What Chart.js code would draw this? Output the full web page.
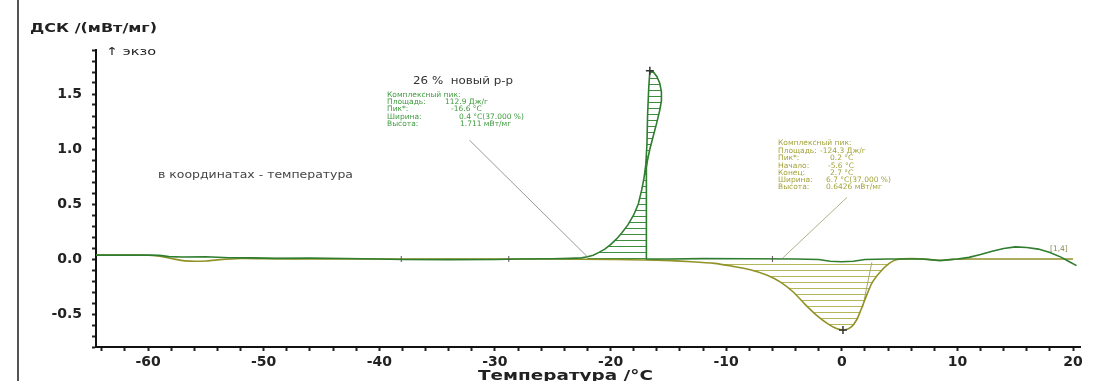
<!DOCTYPE html>
<html>
<head>
<meta charset="utf-8">
<script src="https://cdn.jsdelivr.net/npm/chart.js@4.4.1/dist/chart.umd.min.js"></script>
<style>
html, body { margin: 0; padding: 0; background: #fff; }
canvas { display: block; }
</style>
</head>
<body>
<canvas id="dsc" width="1112" height="381"></canvas>
<script>
// ДСК: зелёная кривая (кристаллизация), оливковая (плавление)
const greenT = [-64.5, -62, -60, -59, -58.2, -57, -55, -53, -51, -49, -46, -43, -40, -38, -34, -30, -28, -25, -23.5,
    -22.5, -22, -21.5, -21, -20.5, -20, -19.5, -19, -18.5, -18, -17.6, -17.3, -17.1, -16.95, -16.85, -16.8, -16.7, -16.6,
    -16.3, -16.0, -15.75, -15.6, -15.6, -15.75, -16.0, -16.3, -16.6, -16.8, -16.9, -16.9,
    -16.5, -15, -12, -8, -4, -2, -1, 0, 1, 2, 4, 7, 8.5, 10, 11, 12, 13, 14, 15, 16, 17, 18, 19, 19.6, 20.3];
const greenDSC = [0.035, 0.035, 0.035, 0.033, 0.022, 0.018, 0.02, 0.012, 0.01, 0.006, 0.008, 0.004, 0.0, -0.004, -0.006, -0.004, 0.0, 0.002, 0.006,
    0.01, 0.02, 0.035, 0.06, 0.09, 0.13, 0.18, 0.24, 0.31, 0.4, 0.5, 0.63, 0.74, 0.86, 1.05, 1.3, 1.55, 1.711,
    1.70, 1.66, 1.6, 1.52, 1.44, 1.35, 1.24, 1.12, 1.0, 0.9, 0.83, 0.0,
    0.0, 0.0, 0.003, 0.002, 0.0, -0.005, -0.02, -0.025, -0.02, -0.005, 0.0, 0.0, -0.015, 0.0, 0.015, 0.04, 0.07, 0.095, 0.11, 0.105, 0.09, 0.06, 0.015, -0.02, -0.06];

const oliveT = [-64.5, -62, -60, -59, -58, -57, -56, -55, -54, -52, -50, -45, -40, -35, -30, -25, -20, -16,
    -13, -11, -9.5, -8, -6.5, -5.3, -4.2, -3.2, -2.2, -1.2, -0.4, 0.2, 0.8, 1.3, 1.7, 2.0, 2.6, 3.3, 4.1, 4.8,
    6, 7.5, 8.5, 9.5, 11, 15, 20];
const oliveDSC = [0.035, 0.035, 0.034, 0.025, 0.005, -0.015, -0.02, -0.018, -0.008, 0.004, 0.003, 0.0, 0.0, 0.0, 0.0, 0.0, -0.004, -0.01,
    -0.025, -0.04, -0.065, -0.095, -0.145, -0.21, -0.3, -0.41, -0.51, -0.59, -0.635, -0.645, -0.62, -0.55, -0.45, -0.37, -0.22, -0.12, -0.04, -0.005,
    0.003, -0.003, -0.012, -0.003, 0.0, 0.0, 0.0];

// отметки пиков и точек на базовой линии
const peakT = [-16.6, 0.1];
const peakDSC = [1.711, -0.645];
const markT = [-38.1, -28.8, -6.0];
const markDSC = [0, 0, 0];

// выноски и касательная
const leader1T = [-32.2, -22.0];
const leader1DSC = [1.08, 0.02];
const leader2T = [0.45, -5.1];
const leader2DSC = [0.56, 0.01];
const tangentT = [2.6, 1.8];
const tangentDSC = [-0.03, -0.44];

const xMajor = [-60, -50, -40, -30, -20, -10, 0, 10, 20];
const yMajor = [-0.5, 0.0, 0.5, 1.0, 1.5];

function pts(xs, ys) {
    return xs.map((v, i) => ({ x: v, y: ys[i] }));
}

function hatch(color, gap) {
    const c = document.createElement('canvas');
    c.width = 8; c.height = gap;
    const g = c.getContext('2d');
    g.fillStyle = color;
    g.fillRect(0, 0, 8, 1);
    return g.createPattern(c, 'repeat');
}

const green = pts(greenT, greenDSC);
const olive = pts(oliveT, oliveDSC);
const greenPeak = green.slice(greenT.indexOf(-22), greenT.lastIndexOf(-16.9) + 1);
const olivePeak = olive.slice(oliveT.indexOf(-13), oliveT.indexOf(4.8) + 1);

const FONT = 'DejaVu Sans';

function txt(ctx, s, x, y, size, color, weight) {
    ctx.font = `${weight || 'normal'} ${size}px "${FONT}"`;
    ctx.fillStyle = color;
    ctx.fillText(s, x, y);
}

// текст, растянутый по ширине (исходный снимок растянут по горизонтали)
function txtFit(ctx, s, x, y, size, color, weight, w) {
    ctx.font = `${weight || 'normal'} ${size}px "${FONT}"`;
    ctx.fillStyle = color;
    const k = w / ctx.measureText(s).width;
    ctx.save();
    ctx.translate(x, y);
    ctx.scale(k, 1);
    ctx.fillText(s, 0, 0);
    ctx.restore();
}

// штриховка площади пиков (петля по x, поэтому своя заливка)
const hatchFill = {
    id: 'hatchFill',
    beforeDatasetsDraw(chart) {
        const { ctx, chartArea, scales: { x, y } } = chart;
        const y0 = y.getPixelForValue(0);
        ctx.save();
        ctx.beginPath();
        ctx.rect(chartArea.left, chartArea.top, chartArea.width, chartArea.height);
        ctx.clip();
        [[greenPeak, hatch('#3d8f3d', 6)], [olivePeak, hatch('#b5b55a', 6)]].forEach(([p, pat]) => {
            ctx.beginPath();
            p.forEach((q, i) => {
                const px = x.getPixelForValue(q.x), py = y.getPixelForValue(q.y);
                if (i === 0) ctx.moveTo(px, py); else ctx.lineTo(px, py);
            });
            ctx.lineTo(x.getPixelForValue(p[p.length - 1].x), y0);
            ctx.lineTo(x.getPixelForValue(p[0].x), y0);
            ctx.closePath();
            ctx.fillStyle = pat;
            ctx.fill();
        });
        ctx.restore();
    }
};

const notes = {
    id: 'notes',
    afterDraw(chart) {
        const ctx = chart.ctx;
        ctx.save();
        // рамка слева
        ctx.strokeStyle = '#555';
        ctx.lineWidth = 2;
        ctx.beginPath();
        ctx.moveTo(18, 0);
        ctx.lineTo(18, 381);
        ctx.stroke();

        ctx.textBaseline = 'middle';
        ctx.textAlign = 'left';
        txtFit(ctx, 'ДСК /(мВт/мг)', 30, 29, 13, '#222', 'bold', 127);
        txtFit(ctx, '↑ экзо', 106, 52, 11, '#222', 'normal', 50);
        txtFit(ctx, '26 %  новый р-р', 413, 81, 10.5, '#333', 'normal', 100);
        txtFit(ctx, 'в координатах - температура', 158, 175, 10.5, '#444', 'normal', 195);

        const gc = '#3f9a3f';
        const gs = 7.5;
        txt(ctx, 'Комплексный пик:', 387, 95, gs, gc);
        txt(ctx, 'Площадь:', 387, 102, gs, gc); txt(ctx, '112.9 Дж/г', 445, 102, gs, gc);
        txt(ctx, 'Пик*:', 387, 109, gs, gc); txt(ctx, '-16.6 °C', 451, 109, gs, gc);
        txt(ctx, 'Ширина:', 387, 117, gs, gc); txt(ctx, '0.4 °C(37.000 %)', 459, 117, gs, gc);
        txt(ctx, 'Высота:', 387, 124, gs, gc); txt(ctx, '1.711 мВт/мг', 460, 124, gs, gc);

        const oc = '#a3a33a';
        txt(ctx, 'Комплексный пик:', 778, 143, gs, oc);
        txt(ctx, 'Площадь:', 778, 151, gs, oc); txt(ctx, '-124.3 Дж/г', 820, 151, gs, oc);
        txt(ctx, 'Пик*:', 778, 158, gs, oc); txt(ctx, '0.2 °C', 830, 158, gs, oc);
        txt(ctx, 'Начало:', 778, 166, gs, oc); txt(ctx, '-5.6 °C', 828, 166, gs, oc);
        txt(ctx, 'Конец:', 778, 173, gs, oc); txt(ctx, '2.7 °C', 830, 173, gs, oc);
        txt(ctx, 'Ширина:', 778, 180, gs, oc); txt(ctx, '6.7 °C(37.000 %)', 826, 180, gs, oc);
        txt(ctx, 'Высота:', 778, 187, gs, oc); txt(ctx, '0.6426 мВт/мг', 826, 187, gs, oc);

        txt(ctx, '[1,4]', 1050, 249, 7.5, '#8a8a50');
        txtFit(ctx, 'Температура /°C', 478, 376, 13.5, '#222', 'bold', 175);
        ctx.restore();
    }
};

const lineDs = (data, color, width) => ({
    data, borderColor: color, borderWidth: width, pointRadius: 0, showLine: true, fill: false, tension: 0
});

const ctx = document.getElementById('dsc').getContext('2d');
new Chart(ctx, {
    type: 'scatter',
    data: {
        datasets: [
            { data: pts(peakT, peakDSC), pointStyle: 'cross', pointRadius: 4, borderColor: '#333', borderWidth: 1.5, showLine: false },
            { data: pts(markT, markDSC), pointStyle: 'line', rotation: 90, pointRadius: 3, borderColor: '#555', borderWidth: 1, showLine: false },
            lineDs(green, '#2f7d2f', 1.6),
            { ...lineDs(olive, '#929228', 1.6), tension: 0.25 },
            lineDs(pts(leader1T, leader1DSC), '#9a9a9a', 1),
            lineDs(pts(leader2T, leader2DSC), '#b0b08a', 1),
            lineDs(pts(tangentT, tangentDSC), '#a8a870', 1),
        ],
    },
    options: {
        responsive: false,
        animation: false,
        layout: { padding: { left: 0, top: 50, right: 32, bottom: 0 } },
        plugins: { legend: { display: false }, tooltip: { enabled: false } },
        scales: {
            x: {
                type: 'linear',
                min: -64.5,
                max: 20.6,
                afterFit: s => { s.height = 34; },
                border: { display: true, color: '#111', width: 2 },
                grid: { drawOnChartArea: false, drawTicks: true, tickLength: 4, tickColor: '#222', tickWidth: 2 },
                ticks: {
                    stepSize: 2,
                    includeBounds: false,
                    autoSkip: false,
                    maxRotation: 0,
                    padding: 3,
                    color: '#222',
                    font: { family: FONT, size: 14, weight: 'bold' },
                    callback: v => xMajor.includes(Math.round(v)) && Math.abs(v - Math.round(v)) < 1e-6 ? String(Math.round(v)) : '',
                },
            },
            y: {
                type: 'linear',
                min: -0.8,
                max: 1.9,
                afterFit: s => { s.width = 96; },
                border: { display: true, color: '#111', width: 2 },
                grid: { drawOnChartArea: false, drawTicks: true, tickLength: 4, tickColor: '#222', tickWidth: 2 },
                ticks: {
                    stepSize: 0.1,
                    includeBounds: false,
                    autoSkip: false,
                    padding: 10,
                    color: '#222',
                    font: { family: FONT, size: 14, weight: 'bold' },
                    callback: v => {
                        const r = Math.round(v * 10) / 10;
                        return yMajor.some(m => Math.abs(m - r) < 1e-6) ? r.toFixed(1) : '';
                    },
                },
            },
        },
    },
    plugins: [hatchFill, notes],
});
</script>
</body>
</html>
